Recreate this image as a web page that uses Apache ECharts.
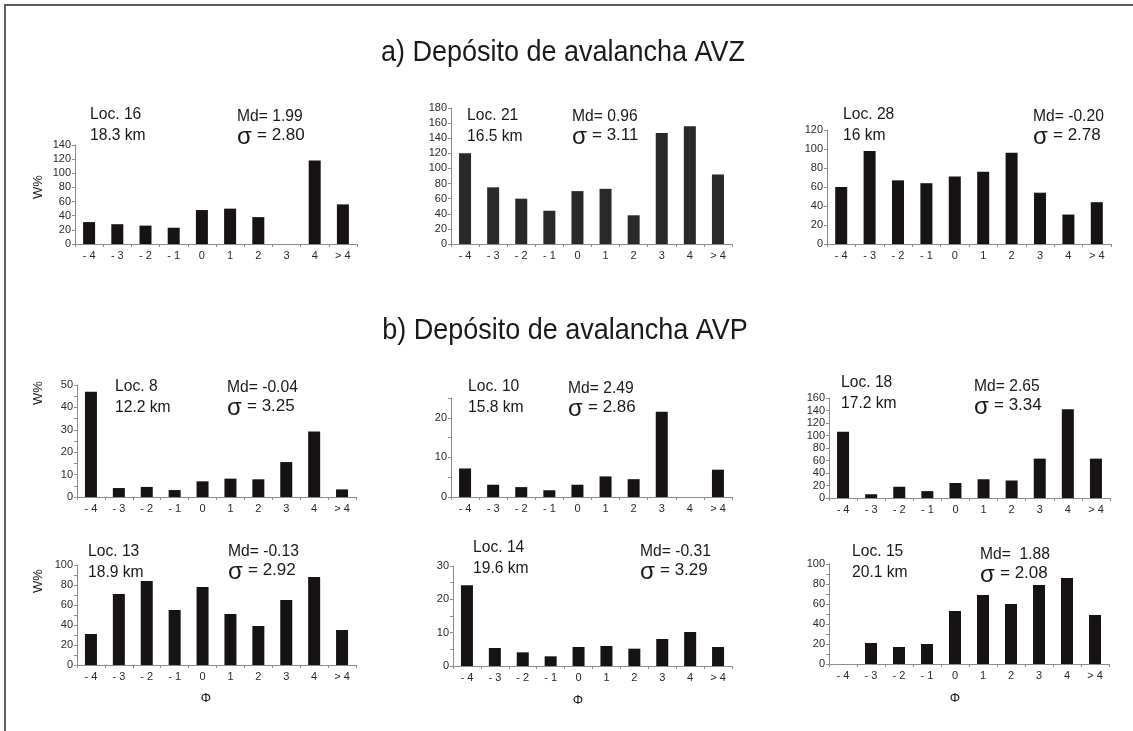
<!DOCTYPE html>
<html>
<head>
<meta charset="utf-8">
<title>Depósito de avalancha AVZ / AVP</title>
<script src="https://cdn.jsdelivr.net/npm/echarts@6/dist/echarts.min.js"></script>
<style>
  html, body { margin: 0; padding: 0; background: #ffffff; }
  #chart { width: 1133px; height: 731px; }
</style>
</head>
<body>
<div id="chart"></div>
<script>
// Grain-size classes (phi)
const phiCategories = ['- 4', '- 3', '- 2', '- 1', '0', '1', '2', '3', '4', '> 4'];

// Weight per class (W%) for each sampling locality
const loc16 = [31, 28, 26, 23, 48, 50, 38, 0, 118, 56];
const loc21 = [120, 75, 60, 44, 70, 73, 38, 147, 156, 92];
const loc28 = [60, 98, 67, 64, 71, 76, 96, 54, 31, 44];
const loc8  = [47, 4, 4.5, 3.1, 7, 8.2, 7.9, 15.6, 29.2, 3.4];
const loc10 = [7.2, 3.1, 2.5, 1.7, 3.1, 5.2, 4.5, 21.5, 0, 6.9];
const loc18 = [106, 6, 18, 11, 24, 30, 28, 63, 142, 63];
const loc13 = [31, 71, 84, 55, 78, 51, 39, 65, 88, 35];
const loc14 = [24.2, 5.4, 4.1, 2.9, 5.7, 6, 5.2, 8.1, 10.2, 5.7];
const loc15 = [0, 21, 17, 20, 53, 69, 60, 79, 86, 49];

// Locality names, distances and statistics
const locNames   = ['Loc. 16', 'Loc. 21', 'Loc. 28', 'Loc. 8', 'Loc. 10', 'Loc. 18', 'Loc. 13', 'Loc. 14', 'Loc. 15'];
const distances  = ['18.3 km', '16.5 km', '16 km', '12.2 km', '15.8 km', '17.2 km', '18.9 km', '19.6 km', '20.1 km'];
const medians    = ['1.99', '0.96', '-0.20', '-0.04', '2.49', '2.65', '-0.13', '-0.31', ' 1.88'];
const sigmas     = ['2.80', '3.11', '2.78', '3.25', '2.86', '3.34', '2.92', '3.29', '2.08'];
const seriesData = [loc16, loc21, loc28, loc8, loc10, loc18, loc13, loc14, loc15];

// Section headings
const headingA = 'a) Depósito de avalancha AVZ';
const headingB = 'b) Depósito de avalancha AVP';
const yName = 'W%';
const xName = 'Φ';

// Value-axis scales: max, tick interval, label step
const yScales = [
  { max: 140, interval: 20, labelStep: 20 },
  { max: 180, interval: 20, labelStep: 20 },
  { max: 120, interval: 20, labelStep: 20 },
  { max: 50,  interval: 5,  labelStep: 10 },
  { max: 25,  interval: 5,  labelStep: 10 },
  { max: 160, interval: 20, labelStep: 20 },
  { max: 100, interval: 10, labelStep: 20 },
  { max: 30,  interval: 5,  labelStep: 10 },
  { max: 100, interval: 10, labelStep: 20 }
];

// Panel layout: plot box [left, top, width, height], annotation anchors
const panels = [
  { box: [75, 145, 282, 99],   loc: [90, 114],  md: [237, 116], color: '#171313' },
  { box: [451, 108, 281, 136], loc: [467, 115], md: [572, 116], color: '#2b2828' },
  { box: [827, 130, 284, 114], loc: [843, 114], md: [1033, 116], color: '#171313' },
  { box: [77, 385, 279, 112],  loc: [115, 386], md: [227, 387], color: '#171313' },
  { box: [451, 398, 281, 99],  loc: [468, 386], md: [568, 388], color: '#171313' },
  { box: [829, 398, 281, 100], loc: [841, 382], md: [974, 386], color: '#171313' },
  { box: [77, 565, 279, 100],  loc: [88, 551],  md: [228, 551], color: '#171313' },
  { box: [453, 566, 279, 100], loc: [473, 547], md: [640, 551], color: '#171313' },
  { box: [829, 564, 280, 100], loc: [852, 551], md: [980, 554], color: '#171313' }
];
// W% name beside first column, Φ name under bottom row
const yNamePos = [[38, 187], [38, 393], [38, 581]];
const xNamePos = [[206, 698], [578, 700], [955, 698]];

const FONT = '"Liberation Sans", Arial, sans-serif';
const NARROW = 0.92;       // horizontal squeeze for condensed annotation text
const HEAD_NARROW = 0.9;   // horizontal squeeze for headings
const AXIS_COLOR = '#8c8c8c';
const TEXT_COLOR = '#1a1a1a';

const grids = [], xAxes = [], yAxes = [], series = [], graphics = [];

function label(x, y, text, size, squeeze, align) {
  return {
    type: 'text', x: x, y: y, scaleX: squeeze, scaleY: 1,
    style: { text: text, font: size + 'px ' + FONT, fill: TEXT_COLOR, align: align || 'left', verticalAlign: 'middle' }
  };
}

panels.forEach(function (p, i) {
  grids.push({ left: p.box[0], top: p.box[1], width: p.box[2], height: p.box[3], containLabel: false });
  xAxes.push({
    type: 'category', gridIndex: i, data: phiCategories,
    axisLine: { show: true, lineStyle: { color: AXIS_COLOR, width: 1 } },
    axisTick: { show: true, length: 3, lineStyle: { color: AXIS_COLOR } },
    axisLabel: { interval: 0, margin: 6, fontFamily: FONT, fontSize: 11, color: '#2a2a2a' },
    splitLine: { show: false }
  });
  const sc = yScales[i];
  yAxes.push({
    type: 'value', gridIndex: i, min: 0, max: sc.max, interval: sc.interval,
    axisLine: { show: true, lineStyle: { color: AXIS_COLOR, width: 1 } },
    axisTick: { show: true, length: 3, lineStyle: { color: AXIS_COLOR } },
    axisLabel: {
      margin: 4, fontFamily: FONT, fontSize: 11, color: '#2a2a2a',
      formatter: function (v) { return v % sc.labelStep === 0 ? String(v) : ''; }
    },
    splitLine: { show: false }
  });
  series.push({
    type: 'bar', xAxisIndex: i, yAxisIndex: i, data: seriesData[i],
    barWidth: 12, itemStyle: { color: p.color }, silent: true
  });

  // Locality and distance
  graphics.push(label(p.loc[0], p.loc[1], locNames[i], 17, NARROW));
  graphics.push(label(p.loc[0], p.loc[1] + 21, distances[i], 17, NARROW));
  // Median and sorting
  graphics.push(label(p.md[0], p.md[1], 'Md= ' + medians[i], 17, NARROW));
  graphics.push(label(p.md[0], p.md[1] + 21, 'σ', 24, 1));
  graphics.push(label(p.md[0] + 20, p.md[1] + 19, '= ' + sigmas[i], 17, 1));
});

yNamePos.forEach(function (pt) {
  const t = label(pt[0], pt[1], yName, 13, 1, 'center');
  t.rotation = Math.PI / 2;
  graphics.push(t);
});
xNamePos.forEach(function (pt) {
  graphics.push(label(pt[0], pt[1], xName, 13, 1, 'center'));
});

// Section headings
graphics.push(label(563, 53, headingA, 30, HEAD_NARROW, 'center'));
graphics.push(label(565, 331, headingB, 30, HEAD_NARROW, 'center'));

// Frame (top and left edges)
graphics.push({ type: 'line', shape: { x1: 4, y1: 5, x2: 1133, y2: 5 }, style: { stroke: '#5e5e5e', lineWidth: 2 } });
graphics.push({ type: 'line', shape: { x1: 5, y1: 4, x2: 5, y2: 731 }, style: { stroke: '#5e5e5e', lineWidth: 2 } });

const chart = echarts.init(document.getElementById('chart'), null, { renderer: 'canvas' });
chart.setOption({
  animation: false,
  backgroundColor: '#ffffff',
  grid: grids,
  xAxis: xAxes,
  yAxis: yAxes,
  series: series,
  graphic: graphics
});
</script>
</body>
</html>
